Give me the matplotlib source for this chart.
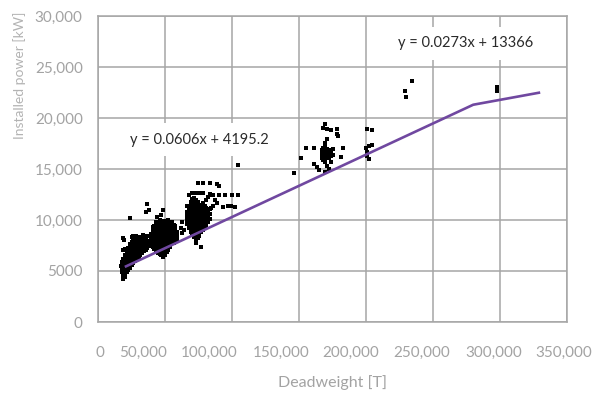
import matplotlib
matplotlib.use('Agg')
import matplotlib.pyplot as plt

plt.rcParams['font.family'] = ['Lato', 'DejaVu Sans']

# ---------------- data ----------------
# each entry: (deadweight [T], [installed power values, kW])
group_a = [
    (17000, [5500]),
    (17800, [4900, 5200, 5600, 5900]),
    (18400, [7100]),
    (18900, [4200, 4500, 4800, 5100, 5400, 5800, 6200, 8200]),
    (19600, [8000]),
    (20100, [4400, 4700, 5000, 5300, 5700, 6000, 6300, 6600, 7200]),
    (21300, [4900, 5200, 5500, 5800, 6100, 6500, 6800, 7100]),
    (22600, [5100, 5400, 5700, 6000, 6300, 6700, 7000, 7300]),
    (23800, [5300, 5600, 5900, 6200, 6600, 6900, 7200, 7600, 10200]),
    (25100, [5600, 5900, 6200, 6500, 6800, 7100, 7500, 7800, 8300]),
    (26400, [5800, 6100, 6400, 6800, 7100, 7400, 7700, 8000, 8400]),
    (27700, [6000, 6300, 6600, 6900, 7200, 7500, 7900, 8200]),
    (28600, [8450]),
    (29000, [6200, 6500, 6800, 7100, 7500, 7800, 8100]),
    (30300, [6400, 6700, 7000, 7300, 7600, 7900, 8300]),
    (31600, [6600, 6900, 7200, 7500, 7800, 8100]),
    (32900, [6800, 7100, 7400, 7700, 8000, 8300]),
    (33700, [8500]),
    (34200, [7000, 7300, 7600, 7900, 8200]),
    (35500, [7100, 7400, 7700, 8000]),
    (36100, [10800]),
    (36800, [7300, 7600, 7900, 8400, 11600]),
    (38000, [7500, 7800, 11000]),
]
group_b = [
    (39500, [7700, 8000, 8300, 8600]),
    (40800, [7400, 7700, 8000, 8300, 8600, 8900, 9300]),
    (42100, [7200, 7500, 7800, 8100, 8400, 8700, 9000, 9400]),
    (43400, [7000, 7300, 7600, 7900, 8200, 8500, 8800, 9100, 9500, 9800]),
    (44000, [10300]),
    (44700, [6800, 7100, 7400, 7700, 8000, 8300, 8600, 8900, 9200, 9500, 9800]),
    (46000, [6700, 7000, 7300, 7600, 7900, 8200, 8500, 8800, 9100, 9400, 9700, 10000]),
    (47000, [10500]),
    (47300, [6600, 6900, 7200, 7500, 7800, 8100, 8400, 8700, 9000, 9300, 9600, 9900]),
    (48600, [6400, 6700, 7000, 7300, 7600, 7900, 8200, 8500, 8800, 9100, 9400, 9700, 11000]),
    (49900, [6600, 6900, 7200, 7500, 7800, 8100, 8400, 8700, 9000, 9300, 9600, 9900]),
    (51200, [6900, 7200, 7500, 7800, 8100, 8400, 8700, 9000, 9300, 9600, 9900]),
    (52500, [7100, 7400, 7700, 8000, 8300, 8600, 8900, 9200, 9500, 9800, 10000]),
    (53800, [7400, 7700, 8000, 8300, 8600, 8900, 9200, 9500, 9800]),
    (55100, [7700, 8000, 8300, 8600, 8900, 9200, 9500, 9800]),
    (56400, [7700, 8000, 8300, 8600, 8900, 9200, 9500]),
    (57700, [7800, 8100, 8400, 8700, 9000, 9400]),
    (59000, [7900, 8200, 8500, 8800]),
    (61700, [9200]),
    (62900, [8700, 9800]),
    (64100, [9000]),
]
group_c = [
    (66500, [9600, 10000, 10400, 10800, 11400]),
    (67800, [9200, 9500, 9800, 10100, 10400, 10700, 11000, 12500]),
    (69100, [8800, 9100, 9400, 9700, 10000, 10300, 10600, 10900, 11200, 11500, 11800]),
    (70400, [8500, 8800, 9100, 9400, 9700, 10000, 10300, 10600, 10900, 11200, 11500, 11800, 12100, 12600]),
    (71700, [8300, 8600, 8900, 9200, 9500, 9800, 10100, 10400, 10700, 11000, 11300, 11600, 11900, 12200]),
    (73000, [7700, 8100, 8400, 8700, 9000, 9300, 9600, 9900, 10200, 10500, 10800, 11100, 11400, 11700, 12000, 12600]),
    (74300, [8200, 8500, 8800, 9100, 9400, 9700, 10000, 10300, 10600, 10900, 11200, 11500, 11800, 13650]),
    (75600, [8400, 8700, 9000, 9300, 9600, 9900, 10200, 10500, 10800, 11100, 11400, 12600]),
    (76900, [7400, 8800, 9100, 9400, 9700, 10000, 10300, 10600, 10900, 11200, 11500]),
    (78200, [9000, 9300, 9600, 9900, 10200, 10500, 10800, 11100, 11400, 11700, 12600, 13650]),
    (79500, [9300, 9600, 9900, 10200, 10500, 10800, 11100, 11400]),
    (80800, [9500, 9800, 10100, 10500, 10900, 11200, 12000]),
    (82100, [9800, 10200, 10700, 11100, 12300]),
    (83400, [10100, 10600, 11100, 12550, 13600]),
    (84500, [11200, 12500]),
    (86000, [11400, 12500]),
    (87000, [12000]),
    (89000, [11700, 13550]),
    (90500, [12450, 13300]),
    (93000, [11300]),
    (95000, [12450]),
    (97000, [11400]),
    (99500, [11400]),
    (100000, [12450]),
    (102500, [11300]),
    (104500, [12450]),
    (104700, [15400]),
]
group_d = [
    (146500, [14600]),
    (151500, [16100]),
    (155500, [17100]),
    (161500, [15450, 17100]),
    (163500, [15200]),
    (164600, [14900]),
    (166800, [16100, 16500, 16900]),
    (167600, [19050]),
    (168200, [15900, 16300, 16700, 17100]),
    (169600, [14700, 15650, 16000, 16400, 16800, 17200, 17550, 19400]),
    (171000, [15300, 16200, 16600, 17000, 17900, 18900]),
    (172400, [15000, 16100, 16500, 16900]),
    (173800, [15700, 16300, 16700, 18800]),
    (175500, [16400, 17000]),
    (178700, [18450, 18950]),
    (179400, [18200]),
    (181200, [16150]),
    (182500, [17100]),
    (199800, [17100]),
    (201000, [16300, 16700, 18900]),
    (202200, [16000, 17250]),
    (204700, [17400, 18850]),
    (229400, [22650]),
    (230100, [22100]),
    (234300, [23600]),
    (297700, [22600, 23000]),
]

# fitted trend line (drawn as one series through three points)
trend_x = [20000, 280000, 330000]
trend_y = [5400, 21300, 22500]

eq_texts = ['y = 0.0606x + 4195.2', 'y = 0.0273x + 13366']
eq_pos = [(75300, 17850), (274300, 27350)]

x_grid = [0, 50000, 100000, 150000, 200000, 250000, 300000, 350000]
xtick_labels = ['0', '50,000', '100,000', '150,000', '200,000',
                '250,000', '300,000', '350,000']
# label anchor points as they sit in the picture (not centred on the grid)
xlabel_pos = [1500, 33500, 82700, 136400, 188600, 241500, 295200, 347400]
y_ticks = [0, 5000, 10000, 15000, 20000, 25000, 30000]
ytick_labels = ['0', '5000', '10,000', '15,000', '20,000', '25,000', '30,000']


def expand(group):
    xs, ys = [], []
    for x, yl in group:
        for y in yl:
            xs.append(x)
            ys.append(y)
    return xs, ys

# ---------------- figure ----------------
W, H = 606, 399
fig = plt.figure(figsize=(W / 100, H / 100), dpi=100)
ax = fig.add_axes([98 / W, 1 - 322 / H, (567 - 98) / W, (322 - 16) / H])
ax.set_xlim(0, 350000)
ax.set_ylim(0, 30000)

grid_c = '#a6a6a6'
tick_c = '#a3a3a3'
ax.set_xticks(x_grid)
ax.set_xticklabels([])
ax.set_xticks(xlabel_pos, minor=True)
ax.set_xticklabels(xtick_labels, minor=True)
ax.tick_params(axis='x', which='major', length=0)
ax.tick_params(axis='x', which='minor', length=0, pad=17,
               labelsize=11, labelcolor=tick_c)
ax.set_yticks(y_ticks)
ax.set_yticklabels(ytick_labels)
ax.tick_params(axis='y', length=0, pad=11, labelsize=11, labelcolor=tick_c)

ax.grid(True, which='major', color=grid_c, linewidth=1.1)
ax.set_axisbelow(True)
for sp in ax.spines.values():
    sp.set_color(grid_c)
    sp.set_linewidth(1.1)

for g in (group_a, group_b, group_c, group_d):
    xs, ys = expand(g)
    ax.scatter(xs, ys, marker='s', s=5, color='black', linewidths=0, zorder=3)

ax.plot(trend_x, trend_y, color='#7048a0', linewidth=1.9, zorder=4,
        solid_capstyle='butt')

for t, (x, y) in zip(eq_texts, eq_pos):
    ax.text(x, y, t, ha='center', va='center', fontsize=10.5, color='#2a2a2a',
            zorder=6,
            bbox=dict(boxstyle='square,pad=0.65', fc='white', ec='none'))

ax.set_xlabel('Deadweight [T]', fontsize=11.5, color=tick_c)
ax.xaxis.label.set_va('center')
ax.xaxis.set_label_coords(0.5, (322 - 383) / 306)
ax.set_ylabel('Installed power [kW]', fontsize=10, color='#b3b3b3')
ax.yaxis.label.set_va('center')
ax.yaxis.label.set_ha('center')
ax.yaxis.set_label_coords((20 - 98) / 469, (322 - 75) / 306)

fig.savefig('out.png', dpi=100)
